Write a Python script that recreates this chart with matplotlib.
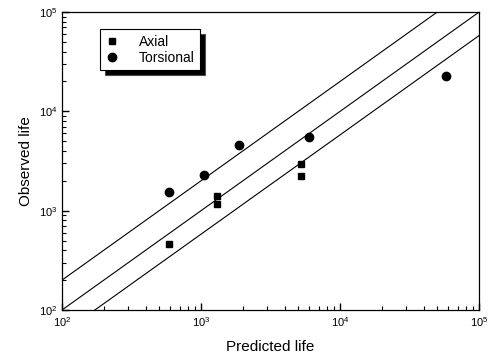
import numpy as np
import matplotlib as mpl
import matplotlib.pyplot as plt

mpl.use('Agg')
plt.rcParams['font.family'] = ['Liberation Sans', 'DejaVu Sans']

# data
axial_pred = [589, 1310, 1310, 5270, 5270]
axial_obs = [462, 1416, 1168, 2952, 2220]
tors_pred = [589, 1056, 1867, 5956, 57900]
tors_obs = [1532, 2291, 4590, 5525, 22700]

band_upper = 2.0
band_lower = 0.58
lims = [1e2, 1e5]

fig = plt.figure(figsize=(4.96, 3.59), dpi=100)
ax = fig.add_axes([0.125, 0.1365, 0.841, 0.830])

x = np.array(lims)
ax.plot(x, x * band_upper, color='black', lw=0.8)
ax.plot(x, x, color='black', lw=0.8)
ax.plot(x, x * band_lower, color='black', lw=0.8)

ax.plot(axial_pred, axial_obs, 's', color='black', ms=5, label='Axial')
ax.plot(tors_pred, tors_obs, 'o', color='black', ms=6, label='Torsional')

ax.set_xscale('log')
ax.set_yscale('log')
ax.set_xlim(lims)
ax.set_ylim(lims)

ax.tick_params(which='both', direction='in', top=False, right=False, labelsize=8)
ax.tick_params(which='major', length=5, width=1)
ax.tick_params(which='minor', length=3, width=0.8)
for s in ax.spines.values():
    s.set_linewidth(0.9)

ax.set_xlabel('Predicted life', fontsize=11, labelpad=8)
ax.set_ylabel('Observed life', fontsize=11, labelpad=4)

leg = ax.legend(loc='upper left', bbox_to_anchor=(0.091, 0.943), borderaxespad=0,
                fontsize=10, fancybox=False, edgecolor='black', framealpha=1,
                shadow={'facecolor': 'black', 'alpha': 1, 'ox': 3.5, 'oy': -3.5},
                handlelength=1.0, handletextpad=1.4, borderpad=0.4, labelspacing=0.15)
leg.get_frame().set_linewidth(0.8)

plt.savefig('out.png', dpi=100)
